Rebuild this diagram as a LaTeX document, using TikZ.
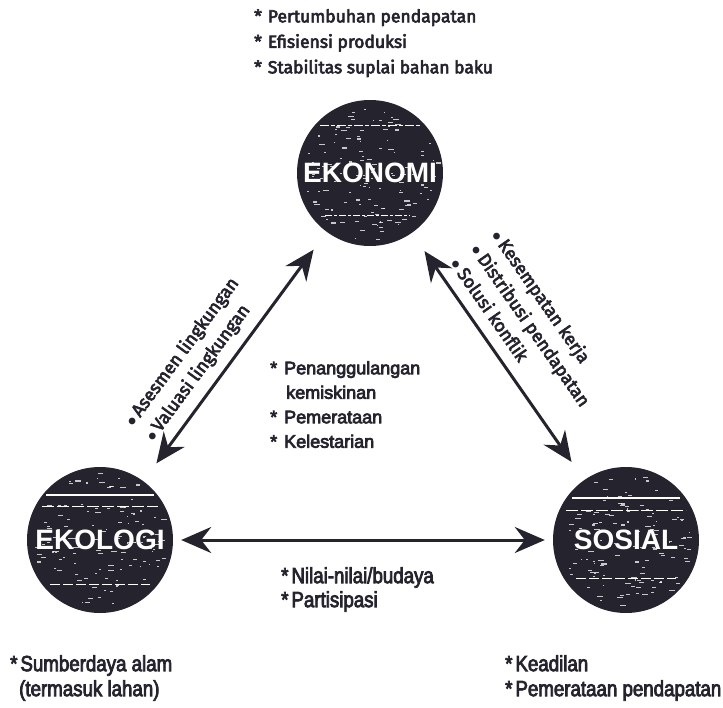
\documentclass[tikz,border=0pt]{standalone}
\usepackage{fontspec}
\setmainfont{Fira Sans}
\newfontfamily\notefont[FakeBold=3.5]{Fira Sans}
\newfontfamily\hubfont{Liberation Sans}
\newfontfamily\plainfont[FakeBold=4]{Liberation Sans}
\newfontfamily\narrowfont[FakeStretch=0.85,FakeBold=3.5]{Liberation Sans}
\usetikzlibrary{arrows.meta,calc}
\definecolor{ink}{HTML}{25232E}

\tikzset{
  bigtip/.tip={Stealth[length=30pt,width=26pt,inset=10pt]},
  hub/.style={circle, fill=ink, minimum size=146pt, inner sep=0pt},
  hubtext/.style={text=white, inner sep=0pt, font=\hubfont\bfseries\fontsize{28}{30}\selectfont},
  link/.style={draw=ink, line width=3pt, {bigtip}-{bigtip}},
  note/.style={text=ink, inner sep=0pt, align=left, anchor=north west,
    font=\notefont\fontsize{17.5}{25.5}\selectfont},
  midnote/.style={text=ink, inner sep=0pt, align=left, anchor=north west,
    font=\plainfont\fontsize{18}{24.5}\selectfont},
  slant/.style={text=ink, inner xsep=0pt, align=left, sloped, anchor=south west,
    font=\notefont\fontsize{18}{25}\selectfont},
  narrow/.style={text=ink, inner sep=0pt, align=left, anchor=north west,
    font=\narrowfont\fontsize{22}{25}\selectfont},
  narrowsm/.style={narrow, font=\narrowfont\fontsize{22}{24}\selectfont},
  speck/.style={white, opacity=0.75}
}

\begin{document}
\begin{tikzpicture}[x=1pt,y=-1pt]
\useasboundingbox (0,0) rectangle (723,707);

% the three pillars
\node[hub] (eko) at (370,173) {};
\node[hub] (ekl) at (100,540) {};
\node[hub] (sos) at (626,540) {};

% worn print texture on the discs
\pgfmathsetseed{11}
\foreach \c in {eko,ekl,sos}{
  \foreach \i in {1,...,130}{
    \pgfmathsetmacro\rr{67*sqrt(rnd)}
    \pgfmathsetmacro\aa{360*rnd}
    \pgfmathsetmacro\ll{1+5*rnd}
    \fill[speck] ($(\c)+(\aa:\rr)$) rectangle ++(\ll,1.1);
  }
}
\draw[white, line width=1pt, dash pattern=on 9pt off 2pt on 4pt off 2pt]
  ($(eko)+(-50,-48)$) -- ($(eko)+(50,-48)$);
\draw[white, line width=1pt, dash pattern=on 7pt off 2pt on 3pt off 2pt]
  ($(eko)+(-45,42)$) -- ($(eko)+(40,42)$);
\draw[white, line width=1.2pt] ($(ekl)+(-54,-45)$) -- ($(ekl)+(54,-45)$);
\draw[white, line width=0.8pt, dash pattern=on 12pt off 3pt]
  ($(ekl)+(-58,-34)$) -- ($(ekl)+(58,-34)$);
\draw[white, line width=1pt, dash pattern=on 10pt off 3pt]
  ($(ekl)+(-50,44)$) -- ($(ekl)+(50,44)$);
\draw[white, line width=1.2pt] ($(sos)+(-54,-42)$) -- ($(sos)+(54,-42)$);
\draw[white, line width=0.8pt, dash pattern=on 12pt off 3pt]
  ($(sos)+(-60,-30)$) -- ($(sos)+(60,-30)$);
\draw[white, line width=1pt, dash pattern=on 10pt off 3pt]
  ($(sos)+(-50,38)$) -- ($(sos)+(50,38)$);

\node[hubtext] (ekot) at (eko) {EKONOMI};
\node[hubtext] (eklt) at (ekl) {EKOLOGI};
\node[hubtext] (sost) at (sos) {SOSIAL};

% connectors
\draw[link, shorten <=22pt, shorten >=22pt] (eko) -- (ekl);
\draw[link, shorten <=22pt, shorten >=22pt] (eko) -- (sos);
\draw[link, shorten <=8pt, shorten >=8pt] (ekl) -- (sos);

% labels along the slanted connectors
\path (ekl) -- node[slant, pos=0.12, inner ysep=11pt] (env)
  {$\bullet$\,Asesmen lingkungan\\$\bullet$\,Valuasi lingkungan} (eko);
\path (eko) -- node[slant, pos=0.155, inner ysep=13pt] (soc)
  {$\bullet$\,Kesempatan kerja\\$\bullet$\,Distribusi pendapatan\\$\bullet$\,Solusi konflik} (sos);

% labels
\node[note] (top) at (254,9) {*\hspace{6pt}Pertumbuhan pendapatan\\
  *\hspace{6pt}Efisiensi produksi\\
  *\hspace{6pt}Stabilitas suplai bahan baku};

\node[midnote] (mid) at (270,361) {*\hspace{7pt}Penanggulangan\\
  \hspace{16pt}kemiskinan\\
  *\hspace{7pt}Pemerataan\\
  *\hspace{7pt}Kelestarian};

\node[narrowsm] (nil) at (281,567) {*\hspace{3pt}Nilai-nilai/budaya\\
  *\hspace{3pt}Partisipasi};

\node[narrow] (sda) at (10,655) {*\hspace{3pt}Sumberdaya alam\\
  \hspace{9pt}(termasuk lahan)};

\node[narrow] (kea) at (505,655) {*\hspace{3pt}Keadilan\\
  *\hspace{3pt}Pemerataan pendapatan};

\end{tikzpicture}
\end{document}
